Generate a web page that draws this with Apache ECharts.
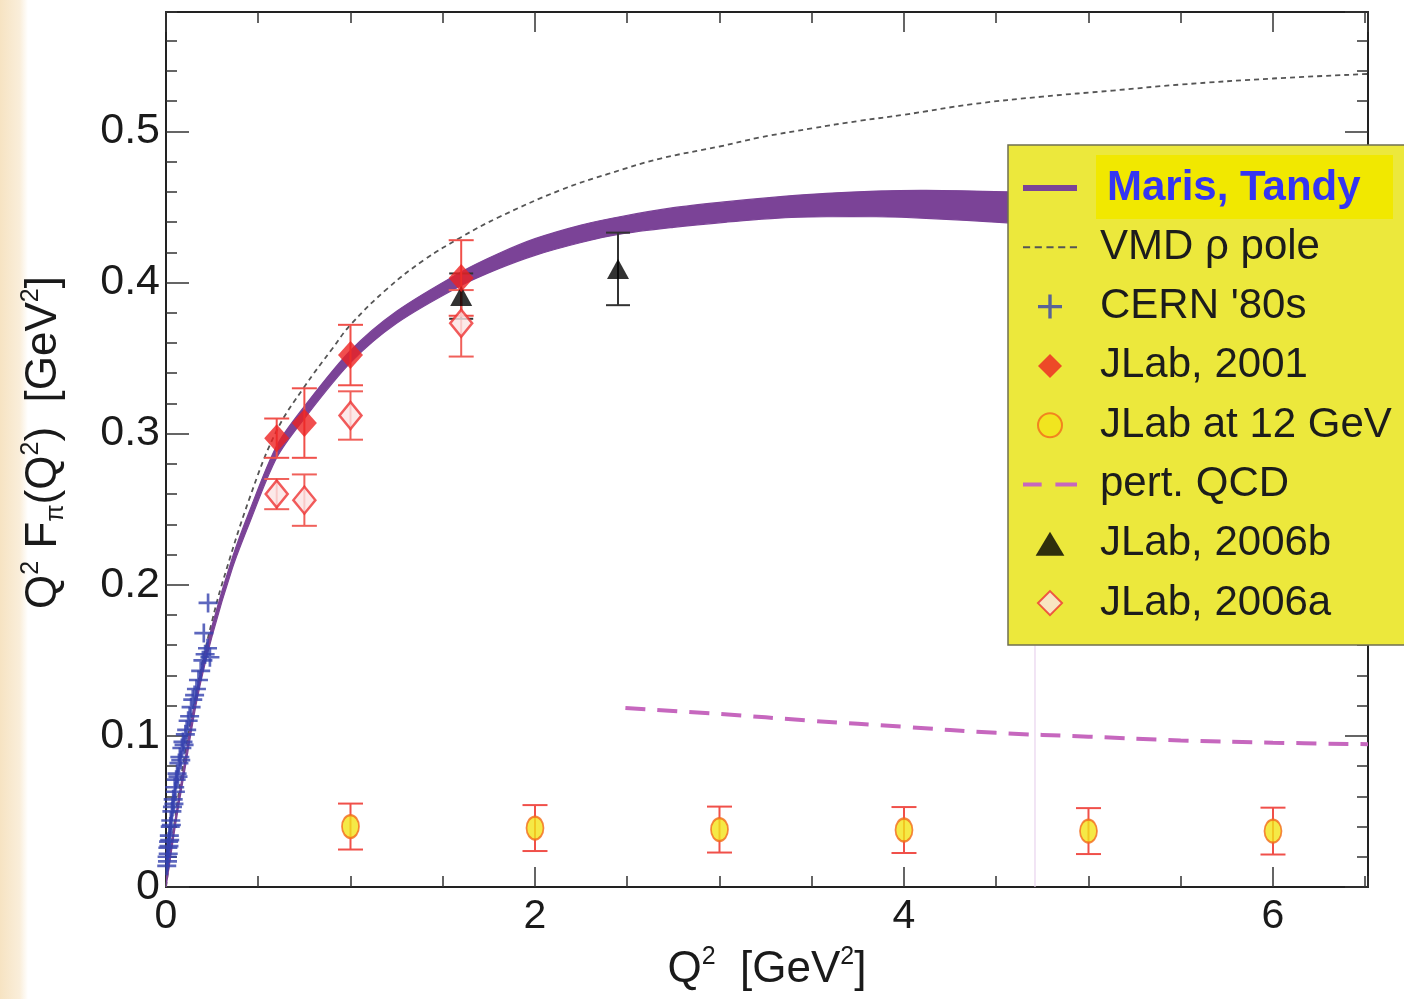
<!DOCTYPE html>
<html><head><meta charset="utf-8">
<script src="https://cdn.jsdelivr.net/npm/echarts@6/dist/echarts.min.js"></script>
<style>html,body{margin:0;padding:0;background:#fff}#c{width:1404px;height:999px}</style>
</head><body><div id="c"></div>
<script>
// ---------------- data ----------------
const xTickLabels = ['0', '2', '4', '6'];
const yTickLabels = ['0', '0.1', '0.2', '0.3', '0.4', '0.5'];

const legendNames = ['Maris, Tandy', 'VMD \u03c1 pole', "CERN '80s", 'JLab, 2001', 'JLab at 12 GeV', 'pert. QCD', 'JLab, 2006b', 'JLab, 2006a'];

// Maris-Tandy band (lower / upper edge)
const bandQ2    = [0, 0.05, 0.10, 0.17, 0.25, 0.36, 0.45, 0.60, 0.75, 1.00, 1.25, 1.60, 1.80, 2.00, 2.25, 2.46, 2.75, 3.04, 3.30, 3.58, 3.85, 4.12, 4.56, 4.75];
const bandLower = [0, 0.040, 0.076, 0.125, 0.166, 0.211, 0.240, 0.284, 0.310, 0.347, 0.373, 0.398, 0.409, 0.418, 0.4265, 0.432, 0.4365, 0.440, 0.4425, 0.4435, 0.4435, 0.4425, 0.4395, 0.438];
const bandUpper = [0.004, 0.045, 0.082, 0.132, 0.173, 0.218, 0.248, 0.292, 0.318, 0.355, 0.381, 0.407, 0.419, 0.429, 0.438, 0.4435, 0.4495, 0.4535, 0.4565, 0.459, 0.4605, 0.461, 0.460, 0.459];

// VMD rho pole
const vmdQ2  = [0, 0.05, 0.10, 0.15, 0.20, 0.25, 0.30, 0.455, 0.60, 0.75, 0.90, 1.00, 1.20, 1.40, 1.60, 1.80, 2.135, 2.40, 2.68, 3.00, 3.22, 3.50, 3.76, 4.00, 4.37, 4.75, 5.13, 5.50, 6.00, 6.515];
const vmdVal = [0, 0.046, 0.086, 0.120, 0.150, 0.176, 0.199, 0.258, 0.302, 0.331, 0.356, 0.372, 0.396, 0.415, 0.430, 0.443, 0.461, 0.472, 0.482, 0.490, 0.496, 0.502, 0.507, 0.511, 0.518, 0.523, 0.527, 0.531, 0.535, 0.538];

// perturbative QCD
const pqcdQ2  = [2.49, 3.0, 3.5, 4.0, 4.5, 5.0, 5.5, 6.0, 6.515];
const pqcdVal = [0.1185, 0.1145, 0.110, 0.106, 0.102, 0.0995, 0.097, 0.0955, 0.0945];

// CERN '80s
const cernQ2  = [0.004, 0.006, 0.008, 0.010, 0.012, 0.014, 0.016, 0.018, 0.020, 0.023, 0.026, 0.029, 0.032, 0.035, 0.039, 0.043, 0.047, 0.051, 0.055, 0.060, 0.065, 0.070, 0.075, 0.080, 0.086, 0.092, 0.098, 0.105, 0.112, 0.120, 0.128, 0.136, 0.145, 0.155, 0.165, 0.176, 0.188, 0.200, 0.212, 0.225, 0.238, 0.205, 0.228];
const cernVal = [0.014, 0.020, 0.017, 0.026, 0.022, 0.030, 0.027, 0.034, 0.031, 0.040, 0.044, 0.041, 0.050, 0.053, 0.058, 0.055, 0.066, 0.063, 0.071, 0.075, 0.073, 0.082, 0.086, 0.084, 0.092, 0.096, 0.094, 0.101, 0.104, 0.110, 0.113, 0.119, 0.124, 0.127, 0.131, 0.137, 0.143, 0.150, 0.154, 0.158, 0.152, 0.168, 0.188];

// JLab 2001
const jlab2001Q2  = [0.60, 0.75, 1.00, 1.60];
const jlab2001Val = [0.297, 0.307, 0.352, 0.403];
const jlab2001Err = [0.013, 0.023, 0.020, 0.025];

// JLab 2006a
const jlab2006aQ2  = [0.60, 0.75, 1.00, 1.60];
const jlab2006aVal = [0.260, 0.256, 0.312, 0.373];
const jlab2006aErr = [0.010, 0.017, 0.016, 0.022];

// JLab 2006b
const jlab2006bQ2  = [1.60, 2.45];
const jlab2006bVal = [0.391, 0.409];
const jlab2006bErr = [0.015, 0.024];

// JLab at 12 GeV (projected)
const jlab12Q2  = [1, 2, 3, 4, 5, 6];
const jlab12Val = [0.040, 0.039, 0.038, 0.0377, 0.037, 0.037];
const jlab12Err = [0.0152, 0.0152, 0.0152, 0.0152, 0.0152, 0.0155];

// faint vertical artefact line
const faintQ2  = [4.71, 4.71];
const faintVal = [0, 0.16];

// ---------------- helpers ----------------
const zip = (a, b) => a.map((v, i) => [v, b[i]]);
const zip3 = (a, b, c) => a.map((v, i) => [v, b[i], c[i]]);
const FONT = 'Liberation Sans, Arial, Helvetica, sans-serif';

function errRender(color, capW, lw) {
  return function (params, api) {
    const x = api.value(0), y = api.value(1), e = api.value(2);
    const t = api.coord([x, y + e]), b = api.coord([x, y - e]);
    const h = capW / 2;
    const st = { stroke: color, lineWidth: lw };
    return { type: 'group', children: [
      { type: 'line', shape: { x1: t[0], y1: t[1], x2: b[0], y2: b[1] }, style: st },
      { type: 'line', shape: { x1: t[0] - h, y1: t[1], x2: t[0] + h, y2: t[1] }, style: st },
      { type: 'line', shape: { x1: b[0] - h, y1: b[1], x2: b[0] + h, y2: b[1] }, style: st }
    ]};
  };
}

function bandRender(params, api) {
  const pts = [];
  for (let i = 0; i < bandQ2.length; i++) pts.push(api.coord([bandQ2[i], bandUpper[i]]));
  for (let i = bandQ2.length - 1; i >= 0; i--) pts.push(api.coord([bandQ2[i], bandLower[i]]));
  return { type: 'polygon', shape: { points: pts, smooth: 0.3 }, style: { fill: '#7B4397', stroke: '#7B4397', lineWidth: 1.2 } };
}

const XMAX = 6.515, YMAX = 0.579;
const frame = { show: true, onZero: false, lineStyle: { color: '#222', width: 2 } };
const noLine = { show: false, onZero: false };
function xAx(pos, interval, len, labels, extra) {
  return Object.assign({
    type: 'value', position: pos, min: 0, max: XMAX, interval: interval,
    axisLine: interval === 2 ? frame : noLine,
    axisTick: { show: true, inside: true, length: len, lineStyle: { color: '#333', width: 1.5 } },
    axisLabel: labels ? { show: true, fontSize: 41, fontFamily: FONT, color: '#1a1a1a', margin: 9, showMaxLabel: false,
      formatter: v => xTickLabels[Math.round(v / 2)] ?? '' } : { show: false },
    splitLine: { show: false }, minorTick: { show: false }
  }, extra || {});
}
function yAx(pos, interval, len, labels, extra) {
  return Object.assign({
    type: 'value', position: pos, min: 0, max: YMAX, interval: interval,
    axisLine: interval === 0.1 ? frame : noLine,
    axisTick: { show: true, inside: true, length: len, lineStyle: { color: '#333', width: 1.5 } },
    axisLabel: labels ? { show: true, fontSize: 43, fontFamily: FONT, color: '#1a1a1a', margin: 6, showMaxLabel: false,
      formatter: v => yTickLabels[Math.round(v * 10)] ?? '' } : { show: false },
    splitLine: { show: false }, minorTick: { show: false }
  }, extra || {});
}

const supRich = {
  b:   { fontSize: 44, fontFamily: FONT, color: '#1a1a1a', lineHeight: 50 },
  sup: { fontSize: 25, fontFamily: FONT, color: '#1a1a1a', lineHeight: 25, verticalAlign: 'top' },
  sub: { fontSize: 25, fontFamily: FONT, color: '#1a1a1a', lineHeight: 25, verticalAlign: 'bottom' }
};

const chart = echarts.init(document.getElementById('c'), null, { renderer: 'canvas' });

const option = {
  backgroundColor: '#ffffff',
  animation: false,
  grid: { left: 166, right: 36, top: 12, bottom: 112, outerBoundsMode: 'none', containLabel: false },
  xAxis: [
    xAx('bottom', 2, 20, true, {
      name: '{b|Q}{sup|2}{b|  [GeV}{sup|2}{b|]}', nameLocation: 'middle', nameGap: 58,
      nameTextStyle: { rich: supRich }
    }),
    xAx('bottom', 0.5, 11, false),
    xAx('top', 2, 20, false),
    xAx('top', 0.5, 11, false)
  ],
  yAxis: [
    yAx('left', 0.1, 23, true, {
      name: '{b|Q}{sup|2}{b| F}{sub|\u03c0}{b|(Q}{sup|2}{b|)  [GeV}{sup|2}{b|]}', nameLocation: 'middle', nameGap: 97, nameRotate: 90,
      nameTextStyle: { rich: supRich, padding: [0, 0, 0, 14] }
    }),
    yAx('left', 0.02, 11, false),
    yAx('right', 0.1, 23, false),
    yAx('right', 0.02, 11, false)
  ],
  legend: {
    show: true, orient: 'vertical', left: 1023, top: 164, padding: 0,
    itemWidth: 54, itemHeight: 24, itemGap: 11.3, selectedMode: false,
    backgroundColor: 'transparent', borderWidth: 0, z: 10,
    data: [
      { name: legendNames[0], icon: 'path://M0,0H54V6H0Z', itemStyle: { color: '#7B4397' } },
      { name: legendNames[1], icon: 'path://M0,0H7V2H0Z M11.5,0H18.5V2H11.5Z M23,0H30V2H23Z M34.5,0H41.5V2H34.5Z M46,0H53V2H46Z', itemStyle: { color: '#555' } },
      { name: legendNames[2] },
      { name: legendNames[3], icon: 'path://M0,-12L12,0L0,12L-12,0Z' },
      { name: legendNames[4], icon: 'circle' },
      { name: legendNames[5], icon: 'path://M0,0H19V4H0Z M33,0H55V4H33Z', itemStyle: { color: '#C667BE' } },
      { name: legendNames[6], icon: 'path://M0,-10L12,10L-12,10Z' },
      { name: legendNames[7], icon: 'path://M0,-11L11,0L0,11L-11,0Z' }
    ],
    formatter: n => n === legendNames[0] ? '{hl|' + n + '}' : '{t|' + n + '}',
    textStyle: {
      fontSize: 42, fontFamily: FONT, color: '#1c1c1c', lineHeight: 48,
      rich: {
        t:  { fontSize: 42, fontFamily: FONT, color: '#1c1c1c', lineHeight: 48, padding: [0, 0, 0, 18] },
        hl: { fontSize: 42, fontFamily: FONT, color: '#3535F2', fontWeight: 'bold', lineHeight: 48, padding: [0, 0, 0, 25] }
      }
    }
  },
  graphic: [
    { type: 'rect', left: 0, top: 0, shape: { width: 28, height: 999 }, z: -1, silent: true,
      style: { fill: new echarts.graphic.LinearGradient(0, 0, 1, 0, [{ offset: 0, color: '#F6E3C2' }, { offset: 0.7, color: '#FAEEDA' }, { offset: 1, color: '#FFFFFF' }]) } },
    { type: 'rect', x: 1008, y: 145, shape: { width: 420, height: 500 }, z: 5, z2: 0, silent: true,
      style: { fill: '#ECE83C', stroke: '#6f6f50', lineWidth: 1.5 } },
    { type: 'rect', x: 1096, y: 155, shape: { width: 297, height: 64 }, z: 5, z2: 1, silent: true,
      style: { fill: '#F1E800' } }
  ],
  series: [
    { type: 'line', name: 'faint', data: zip(faintQ2, faintVal), symbol: 'none', silent: true, z: 1,
      lineStyle: { color: '#E9D3EE', width: 1.2 } },
    { type: 'line', name: legendNames[1], data: zip(vmdQ2, vmdVal), symbol: 'none', smooth: 0.4, z: 2,
      itemStyle: { color: '#555' },
      lineStyle: { color: '#555', width: 1.8, type: [5, 4] } },
    { type: 'custom', name: legendNames[0], data: [[0, 0]], renderItem: bandRender, z: 3, silent: true,
      itemStyle: { color: '#7B4397' }, clip: true },
    { type: 'line', name: legendNames[5], data: zip(pqcdQ2, pqcdVal), symbol: 'none', smooth: 0.4, z: 3,
      itemStyle: { color: '#C667BE' },
      lineStyle: { color: '#C667BE', width: 4, type: [20, 12] } },
    { type: 'scatter', name: legendNames[2], data: zip(cernQ2, cernVal), z: 4,
      symbol: 'path://M-1.4,-10H1.4V-1.4H10V1.4H1.4V10H-1.4V1.4H-10V-1.4H-1.4Z', symbolSize: 19,
      itemStyle: { color: '#3441AE', opacity: 0.8 } },
    // error bars
    { type: 'custom', name: 'err12', data: zip3(jlab12Q2, jlab12Val, jlab12Err), renderItem: errRender('#F0504A', 25, 2), z: 4, silent: true, encode: { x: 0, y: 1 } },
    { type: 'custom', name: 'err2006a', data: zip3(jlab2006aQ2, jlab2006aVal, jlab2006aErr), renderItem: errRender('#F0605A', 25, 2), z: 4, silent: true, encode: { x: 0, y: 1 } },
    { type: 'custom', name: 'err2006b', data: zip3(jlab2006bQ2, jlab2006bVal, jlab2006bErr), renderItem: errRender('#333333', 24, 2), z: 4, silent: true, encode: { x: 0, y: 1 } },
    { type: 'custom', name: 'err2001', data: zip3(jlab2001Q2, jlab2001Val, jlab2001Err), renderItem: errRender('#F0504A', 25, 2), z: 4, silent: true, encode: { x: 0, y: 1 } },
    // markers
    { type: 'scatter', name: legendNames[4], data: zip(jlab12Q2, jlab12Val), z: 5,
      symbol: 'circle', symbolSize: [17, 23],
      itemStyle: { color: '#F2E418', borderColor: '#F26A1B', borderWidth: 2 } },
    { type: 'scatter', name: legendNames[7], data: zip(jlab2006aQ2, jlab2006aVal), z: 5,
      symbol: 'diamond', symbolSize: [22, 27],
      itemStyle: { color: '#FBE3E3', borderColor: '#EE3333', borderWidth: 2.5 } },
    { type: 'scatter', name: legendNames[6], data: zip(jlab2006bQ2, jlab2006bVal), z: 5,
      symbol: 'triangle', symbolSize: [22, 20],
      itemStyle: { color: '#000000' } },
    { type: 'scatter', name: legendNames[3], data: zip(jlab2001Q2, jlab2001Val), z: 6,
      symbol: 'diamond', symbolSize: [25, 28],
      itemStyle: { color: '#EE2222' } }
  ]
};
chart.setOption(option);
</script>
</body></html>
